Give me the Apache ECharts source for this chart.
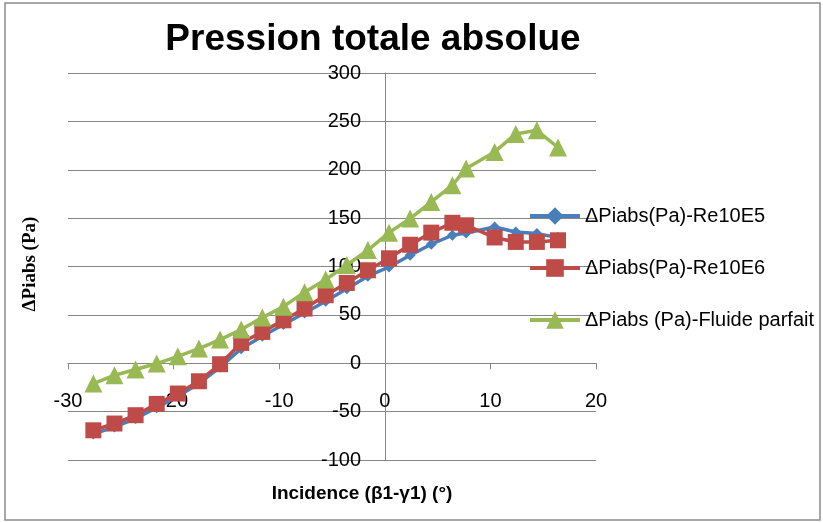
<!DOCTYPE html>
<html><head><meta charset="utf-8">
<script src="https://cdn.jsdelivr.net/npm/echarts@6/dist/echarts.min.js"></script>
<style>html,body{margin:0;padding:0;background:#fff}#c{width:823px;height:523px}</style>
</head><body><div id="c"></div>
<script>
const incidence = [-27.6,-25.6,-23.6,-21.6,-19.6,-17.6,-15.6,-13.6,-11.6,-9.6,-7.6,-5.6,-3.6,-1.6,0.4,2.4,4.4,6.4,7.7,10.4,12.4,14.4,16.4];
const re10e5 = [-73,-66,-57,-46,-34,-21,-4,15,28,40,52,64,77,90,99.5,111.6,123,132.3,134.7,140.9,135.7,134,130];
const re10e6 = [-69.3,-62.3,-53.7,-42,-31.3,-18.6,-1,21,32.4,44.4,56.5,70.3,83,96.1,108.5,122.5,135,145.2,142.6,130,125.4,125.4,127.1];
const fluide = [-21,-12.4,-6.5,-0.3,7.2,15.2,24.5,34.8,47.2,58.5,73.5,86.5,101.5,117,135,149.6,166.7,184,201.2,218.4,237,240.8,223];
const seriesNames = ['\u0394Piabs(Pa)-Re10E5','\u0394Piabs(Pa)-Re10E6','\u0394Piabs (Pa)-Fluide parfait'];
const xTicks = {min:-30, max:20, interval:10};
const yTicks = {min:-100, max:300, interval:50};
const xTitle = 'Incidence (\u03b21-\u03b31) (\u00b0)';
const yTitle = '\u0394Piabs (Pa)';

const pair = (ys) => incidence.map((x, i) => [x, ys[i]]);
const chart = echarts.init(document.getElementById('c'), null, {renderer:'canvas'});
const axisGray = '#868686';
chart.setOption({
  animation:false,
  backgroundColor:'#fff',
  title:{text:'Pression totale absolue', left:368, top:16, textAlign:'center',
    textStyle:{fontFamily:'Liberation Sans', fontWeight:'bold', fontSize:37, color:'#000'}},
  graphic:[
    {type:'rect', shape:{x:5,y:3,width:815,height:517}, style:{fill:'none', stroke:'#8c8c8c', lineWidth:1.5}, silent:true},
    {type:'text', x:362, y:494, style:{text:xTitle, fontFamily:'Liberation Sans', fontWeight:'bold', fontSize:19, fill:'#000', textAlign:'center', textVerticalAlign:'middle'}},
    {type:'text', x:30, y:264, rotation:Math.PI/2, style:{text:yTitle, fontFamily:'Liberation Serif', fontWeight:'bold', fontSize:19, fill:'#000', textAlign:'center', textVerticalAlign:'middle'}}
  ],
  legend:{orient:'vertical', left:528, top:204, padding:0, itemWidth:50, itemHeight:22, itemGap:28,
    lineStyle:{width:4},
    textStyle:{fontFamily:'Liberation Sans', fontSize:20, color:'#000', lineHeight:24},
    data:seriesNames},
  grid:{left:68, right:227, top:73, bottom:63, containLabel:false, outerBoundsMode:'none'},
  xAxis:{type:'value', min:xTicks.min, max:xTicks.max, interval:xTicks.interval,
    axisLine:{onZero:true, lineStyle:{color:axisGray, width:1}},
    axisTick:{show:true, length:6, lineStyle:{color:axisGray}},
    axisLabel:{margin:-69, fontFamily:'Liberation Sans', fontSize:20, color:'#000'},
    splitLine:{show:false}},
  yAxis:{type:'value', min:yTicks.min, max:yTicks.max, interval:yTicks.interval,
    axisLine:{onZero:true, lineStyle:{color:axisGray, width:1}},
    axisTick:{show:true, length:6, lineStyle:{color:axisGray}},
    axisLabel:{margin:-293, fontFamily:'Liberation Sans', fontSize:20, color:'#000', align:'right'},
    splitLine:{show:true, lineStyle:{color:axisGray, width:1}}},
  series:[
    {name:seriesNames[0], type:'line', data:pair(re10e5), symbol:'diamond', symbolSize:11,
      lineStyle:{width:3.5, color:'#4A7EBB'}, itemStyle:{color:'#4A7EBB'}, z:2},
    {name:seriesNames[1], type:'line', data:pair(re10e6), symbol:'rect', symbolSize:16,
      lineStyle:{width:3.5, color:'#BE4B48'}, itemStyle:{color:'#BE4B48'}, z:3},
    {name:seriesNames[2], type:'line', data:pair(fluide), symbol:'triangle', symbolSize:18,
      lineStyle:{width:3.5, color:'#98B954'}, itemStyle:{color:'#98B954'}, z:4}
  ]
});
</script></body></html>
